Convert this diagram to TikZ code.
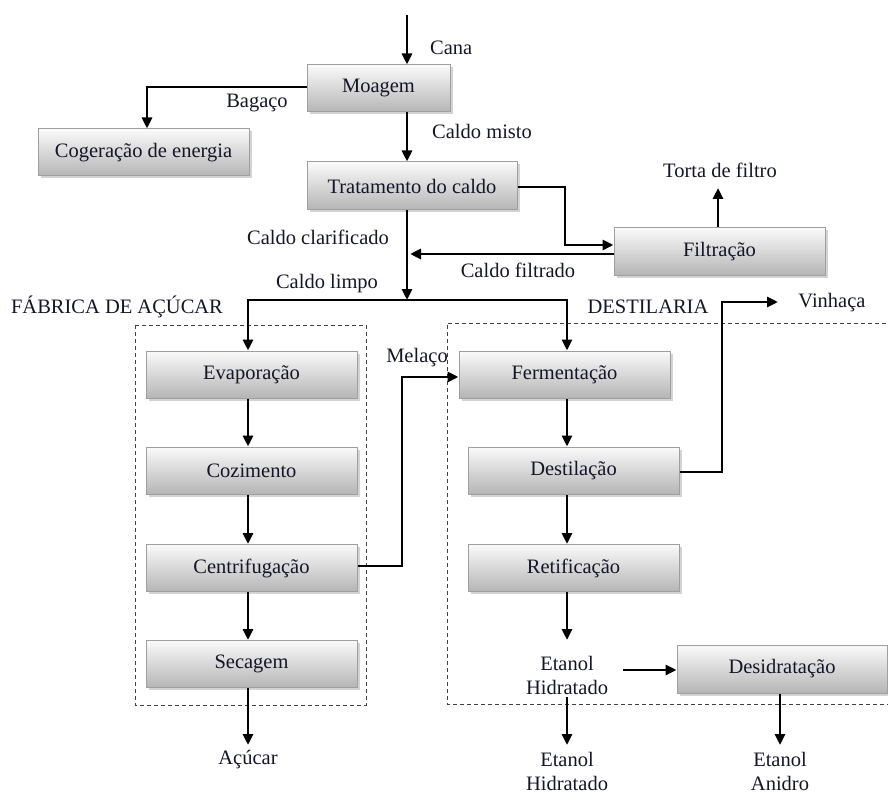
\documentclass[tikz,border=0pt]{standalone}
\usepackage{fontspec}
\setmainfont{Liberation Serif}
\usetikzlibrary{arrows.meta,shadows}
\definecolor{txt}{HTML}{15152A}
\begin{document}
\begin{tikzpicture}[x=1pt,y=1pt,
  every node/.style={font=\fontsize{20.5}{24}\selectfont, text=txt, inner sep=0pt},
  pbox/.style={draw=gray!75, line width=1pt, top color=gray!4, bottom color=gray!58,
     minimum width=211pt, minimum height=47pt,
     drop shadow={shadow xshift=2.5pt, shadow yshift=-2.5pt, opacity=0.35}},
  flow/.style={line width=2.8pt, -{Triangle[length=11pt,width=10pt]}},
  plain/.style={line width=2.8pt},
  grp/.style={draw=black!75, line width=1pt, dash pattern=on 4pt off 3pt}]
\useasboundingbox (0,0) rectangle (888,-794);
% boxes
\node[pbox, minimum width=143pt] (moagem) at (378.5,-88.5) {Moagem};
\node[pbox] (cog) at (143.5,-152.5) {Cogeração de energia};
\node[pbox, minimum width=210pt, minimum height=48pt] (trat) at (412,-186) {Tratamento do caldo};
\node[pbox] (filt) at (719.5,-251.5) {Filtração};
\node[pbox] (evap) at (251.5,-374.5) {Evaporação};
\node[pbox] (coz) at (251.5,-470.5) {Cozimento};
\node[pbox] (cent) at (251.5,-568) {Centrifugação};
\node[pbox] (sec) at (251.5,-664) {Secagem};
\node[pbox] (ferm) at (564.5,-374.5) {Fermentação};
\node[pbox] (dest) at (573.5,-470.5) {Destilação};
\node[pbox] (ret) at (573.5,-568) {Retificação};
\node[pbox, minimum width=210pt, minimum height=48pt] (desid) at (782,-669) {Desidratação};
% dashed groups
\draw[grp] (135,-325) rectangle (366,-705);
\draw[grp] (900,-323) -- (447,-323) -- (447,-704) -- (900,-704);
% labels
\node[anchor=west] (cana) at (430,-48) {Cana};
\node (bagaco) at (257,-103) {Bagaço};
\node[anchor=west] (misto) at (432,-131) {Caldo misto};
\node (torta) at (720,-170) {Torta de filtro};
\node (clar) at (318,-237) {Caldo clarificado};
\node (filtrado) at (518,-270) {Caldo filtrado};
\node (limpo) at (327,-284) {Caldo limpo};
\node (fab) at (117,-307) {FÁBRICA DE AÇÚCAR};
\node (destl) at (648,-307) {DESTILARIA};
\node (vinh) at (832,-303) {Vinhaça};
\node (melaco) at (417,-358) {Melaço};
\node[align=center] (eth) at (567,-675) {Etanol\\Hidratado};
\node[align=center] (ethout) at (567,-771) {Etanol\\Hidratado};
\node[align=center] (anidro) at (780,-771) {Etanol\\Anidro};
\node (acucar) at (248,-760) {Açúcar};
% coordinates
\coordinate (mx) at (407,0);
\coordinate (lx) at (248,0);
\coordinate (rx) at (567,0);
\coordinate (top) at (407,-15);
\coordinate (split) at (407,-300);
\coordinate (vin) at (778,-302);
\coordinate (endsec) at (248,-745);
\coordinate (endeth) at (567,-745);
\coordinate (endan) at (780,-745);
% connectors
\draw[flow] (top) -- (moagem.north -| mx);
\draw[flow] (moagem.west |- 0,-87) -| (cog.north -| 147,0);
\draw[flow] (moagem.south -| mx) -- (trat.north -| mx);
\draw[flow] (trat.east |- 0,-187) -- (565,-187) -- (565,-245) -- (filt.west |- 0,-245);
\draw[flow] (filt.west |- 0,-254) -- (410,-254);
\draw[flow] (filt.north -| 718,0) -- (718,-188);
\draw[flow] (trat.south -| mx) -- (split);
\draw[plain] (248,-300) -- (567,-300);
\draw[flow] (248,-299) -- (evap.north -| lx);
\draw[flow] (567,-299) -- (ferm.north -| rx);
\draw[flow] (evap.south -| lx) -- (coz.north -| lx);
\draw[flow] (coz.south -| lx) -- (cent.north -| lx);
\draw[flow] (cent.south -| lx) -- (sec.north -| lx);
\draw[flow] (sec.south -| lx) -- (endsec);
\draw[flow] (ferm.south -| rx) -- (dest.north -| rx);
\draw[flow] (dest.south -| rx) -- (ret.north -| rx);
\draw[flow] (ret.south -| rx) -- (567,-640);
\draw[flow] (623,-670) -- (desid.west |- 0,-670);
\draw[flow] (567,-697) -- (endeth);
\draw[flow] (desid.south -| 780,0) -- (endan);
\draw[flow] (cent.east |- 0,-566) -- (402,-566) -- (402,-377) -- (ferm.west |- 0,-377);
\draw[flow] (dest.east |- 0,-472) -- (722,-472) -- (722,-302) -- (vin);
\end{tikzpicture}
\end{document}
